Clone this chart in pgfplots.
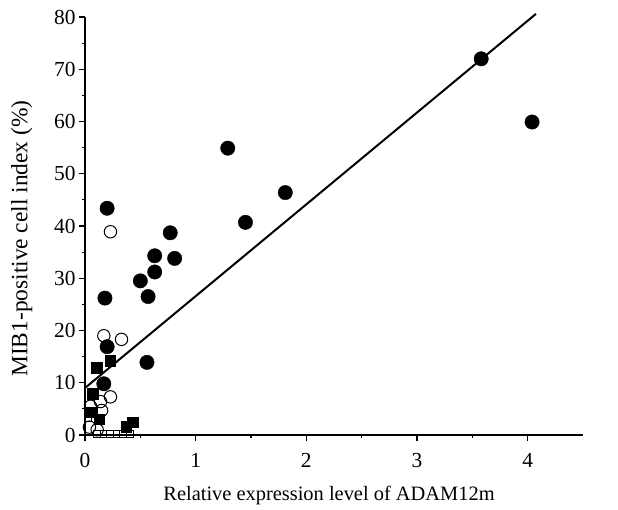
\documentclass[border=0pt]{standalone}
\usepackage{fontspec}
\setmainfont{Liberation Serif}
\usepackage{pgfplots}
\pgfplotsset{compat=1.18}

\begin{document}
\begin{tikzpicture}
\begin{axis}[
    scale only axis, width=498bp, height=418bp,
    xmin=0, xmax=4.5, ymin=0, ymax=80,
    axis lines=left, axis line style={-, line width=1.6bp},
    xtick={0,1,2,3,4}, minor xtick={0.5,1.5,2.5,3.5},
    ytick={0,10,...,80}, minor ytick={5,15,...,75},
    tick align=outside, major tick length=6bp, minor tick length=3bp,
    every tick/.style={black, line width=1.1bp},
    tick label style={font=\fontsize{21.5}{24}\selectfont},
    xticklabel style={yshift=-9bp},
    /pgf/number format/assume math mode=true,
    xlabel={Relative expression level of ADAM12m},
    ylabel={MIB1-positive cell index (\%)},
    xlabel style={font=\fontsize{20.5}{24}\selectfont, at={(axis description cs:0.49,-0.145)}, anchor=center},
    ylabel style={font=\fontsize{23.5}{26}\selectfont, at={(axis description cs:-0.127,0.47)}, anchor=center},
    clip=false,
]
% regression line
\addplot[black, line width=2bp] coordinates {(0,9.0) (4.075,80.6)};
% open squares
\addplot[only marks, mark=square, mark size=3.3bp, mark options={black, line width=0.8pt, fill=white}]
  coordinates {(0.105,0.2)(0.165,0.2)(0.225,0.2)(0.285,0.2)(0.345,0.2)(0.405,0.2)(0.03,3.2)};
% filled squares
\addplot[only marks, mark=square*, mark size=5.2bp, mark options={black}]
  coordinates {(0.105,12.9)(0.23,14.2)(0.07,7.9)(0.06,4.4)(0.13,3.0)(0.37,1.6)(0.43,2.4)};
% open circles
\addplot[only marks, mark=o, mark size=6.2bp, mark options={black, line width=1pt, fill=white}]
  coordinates {(0.23,38.9)(0.17,19.0)(0.33,18.3)(0.23,7.3)(0.14,6.4)(0.05,5.5)(0.15,4.7)(0.04,1.5)(0.11,1.0)};
% filled circles
\addplot[only marks, mark=*, mark size=7.2bp, mark options={black}]
  coordinates {(3.58,72.0)(4.04,59.9)(1.29,54.9)(1.81,46.4)(1.45,40.7)(0.20,43.4)
  (0.77,38.7)(0.63,34.3)(0.81,33.8)(0.63,31.2)(0.50,29.5)(0.57,26.5)(0.18,26.2)
  (0.20,16.9)(0.56,13.9)(0.17,9.8)};
\coordinate (o) at (rel axis cs:0,0);
\end{axis}
\pgfresetboundingbox
\path (o) ++(-85bp,-75bp) rectangle ++(618bp,510bp);
\end{tikzpicture}
\end{document}
